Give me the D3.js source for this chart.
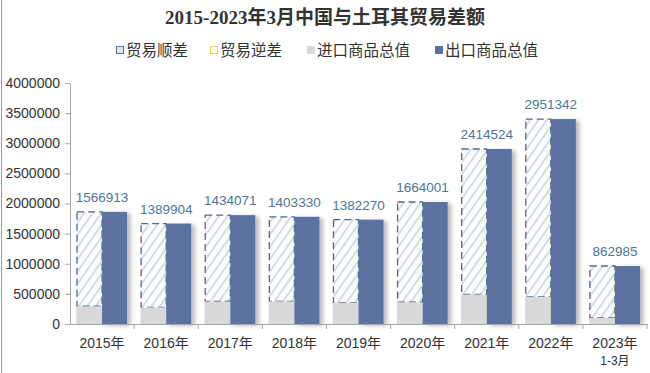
<!DOCTYPE html>
<html>
<head>
<meta charset="utf-8">
<script src="https://cdn.jsdelivr.net/npm/d3@7"></script>
<style>
  body { margin: 0; background: #fff; }
  svg { display: block; font-family: "Liberation Sans", "Noto Sans CJK SC", sans-serif; }
</style>
</head>
<body>
<div id="chart"></div>
<script>
// ---- data (万美元) ----
const years = ['2015年', '2016年', '2017年', '2018年', '2019年', '2020年', '2021年', '2022年', '2023年'];
const subLabels = ['', '', '', '', '', '', '', '', '1-3月'];
const importVals = [294600, 277000, 373200, 376000, 350000, 361000, 490000, 450000, 100000];
const exportVals = [1861513, 1666904, 1807271, 1779330, 1732270, 2025001, 2904524, 3401342, 962985];
const surplusVals = [1566913, 1389904, 1434071, 1403330, 1382270, 1664001, 2414524, 2951342, 862985];
const yTicks = [0, 500000, 1000000, 1500000, 2000000, 2500000, 3000000, 3500000, 4000000];
const legendItems = ['贸易顺差', '贸易逆差', '进口商品总值', '出口商品总值'];

const width = 650, height = 373;
const exportColor = '#5b73a1',
    importColor = '#d9d9d9',
    labelColor = '#4b7697',
    dashColor = '#4d6b88';

const svg = d3.select('#chart').append('svg')
    .attr('width', width)
    .attr('height', height);

const defs = svg.append('defs');
const hatch = defs.append('pattern')
    .attr('id', 'hatch')
    .attr('patternUnits', 'userSpaceOnUse')
    .attr('width', 7).attr('height', 7)
    .attr('patternTransform', 'rotate(35)');
hatch.append('rect').attr('width', 7).attr('height', 7).attr('fill', '#fbfcfd');
hatch.append('line')
    .attr('x1', 0).attr('y1', 0).attr('x2', 0).attr('y2', 7)
    .attr('stroke', '#cdd4dc').attr('stroke-width', 3.2);

const shadow = defs.append('filter').attr('id', 'shadow')
    .attr('x', '-20%').attr('y', '-5%').attr('width', '160%').attr('height', '115%');
shadow.append('feDropShadow')
    .attr('dx', 3.5).attr('dy', 1.5).attr('stdDeviation', 2)
    .attr('flood-color', '#000').attr('flood-opacity', 0.28);

// frame line on the left
svg.append('line')
    .attr('x1', 1.5).attr('x2', 1.5).attr('y1', 0).attr('y2', height)
    .attr('stroke', '#9a9a9a');

// title
svg.append('text')
    .attr('x', 325).attr('y', 24)
    .attr('text-anchor', 'middle')
    .style('font-family', '"Liberation Serif", "Noto Sans CJK SC", serif')
    .style('font-size', '19px')
    .style('font-weight', 'bold')
    .attr('fill', '#333')
    .text('2015-2023年3月中国与土耳其贸易差额');

// legend
const legendX = [116, 210, 307, 435];
const legend = svg.append('g').attr('class', 'legend');
legendItems.forEach((name, i) => {
    const g = legend.append('g').attr('transform', `translate(${legendX[i]},50)`);
    if (i === 0) {
        g.append('rect').attr('x', 0.5).attr('y', -3.5).attr('width', 7).attr('height', 7)
            .attr('fill', '#dfe7f0').attr('stroke', '#5a7896');
    } else if (i === 1) {
        g.append('rect').attr('x', 0.5).attr('y', -3.5).attr('width', 7).attr('height', 7)
            .attr('fill', '#fffbe6').attr('stroke', '#f2d24a');
    } else {
        g.append('rect').attr('x', 0).attr('y', -4).attr('width', 8).attr('height', 8)
            .attr('fill', i === 2 ? importColor : exportColor);
    }
    g.append('text')
        .attr('x', 10).attr('y', 6)
        .style('font-family', '"Noto Sans CJK SC", sans-serif')
        .style('font-size', '15.5px')
        .attr('fill', '#333')
        .text(name);
});

// scales
const x = d3.scaleBand().domain(years).range([70, 647]);
const sub = d3.scaleBand().domain(['imp', 'exp'])
    .range([7, x.bandwidth() - 7]);
const y = d3.scaleLinear().domain([0, 4000000]).range([324, 83]);

// axes
const yAxis = svg.append('g')
    .attr('transform', 'translate(70,0)')
    .call(d3.axisLeft(y).tickValues(yTicks).tickFormat(d3.format('d')).tickSize(5).tickSizeOuter(0));
yAxis.select('.domain').attr('stroke', '#a6a6a6');
yAxis.selectAll('.tick line').attr('stroke', '#a6a6a6');
yAxis.selectAll('.tick text')
    .attr('x', -10)
    .style('font-size', '14px')
    .style('font-family', '"Liberation Sans", sans-serif')
    .attr('fill', '#333');

const xAxis = svg.append('g')
    .attr('transform', 'translate(0,324)')
    .call(d3.axisBottom(x).tickSize(0).tickSizeOuter(0));
xAxis.select('.domain').attr('stroke', '#a6a6a6');
xAxis.selectAll('.tick text')
    .attr('dy', 0).attr('y', 24)
    .style('font-size', '14px')
    .style('font-family', '"Liberation Sans", "Noto Sans CJK SC", sans-serif')
    .attr('fill', '#333');
// boundary ticks between categories
xAxis.selectAll('.sep')
    .data(years)
    .enter().append('line')
    .attr('class', 'sep')
    .attr('x1', d => x(d) + x.bandwidth()).attr('x2', d => x(d) + x.bandwidth())
    .attr('y1', 0).attr('y2', 5)
    .attr('stroke', '#a6a6a6');
xAxis.selectAll('.sub')
    .data(years.filter((d, i) => subLabels[i]))
    .enter().append('text')
    .attr('class', 'sub')
    .attr('x', d => x(d) + x.bandwidth() / 2)
    .attr('y', 41)
    .attr('text-anchor', 'middle')
    .style('font-size', '12px')
    .style('font-family', '"Liberation Sans", "Noto Sans CJK SC", sans-serif')
    .attr('fill', '#333')
    .text(d => subLabels[years.indexOf(d)]);

// bars
const groups = svg.append('g').selectAll('g.group')
    .data(years)
    .enter().append('g')
    .attr('class', 'group')
    .attr('transform', d => `translate(${x(d)},0)`);

// trade surplus (hatched, stacked on imports)
groups.append('rect')
    .attr('x', sub('imp'))
    .attr('width', sub.bandwidth())
    .attr('y', (d, i) => y(importVals[i] + surplusVals[i]))
    .attr('height', (d, i) => y(importVals[i]) - y(importVals[i] + surplusVals[i]))
    .attr('fill', 'url(#hatch)')
    .attr('stroke', dashColor)
    .attr('stroke-width', 1.3)
    .attr('stroke-dasharray', '7,4');

// imports
groups.append('rect')
    .attr('x', sub('imp') - 0.7)
    .attr('width', sub.bandwidth() + 0.7)
    .attr('y', (d, i) => y(importVals[i]))
    .attr('height', (d, i) => y(0) - y(importVals[i]))
    .attr('fill', importColor);

// exports
groups.append('rect')
    .attr('x', sub('exp'))
    .attr('width', sub.bandwidth())
    .attr('y', (d, i) => y(exportVals[i]))
    .attr('height', (d, i) => y(0) - y(exportVals[i]))
    .attr('fill', exportColor)
    .attr('filter', 'url(#shadow)');

// surplus labels
groups.append('text')
    .attr('x', x.bandwidth() / 2)
    .attr('y', (d, i) => y(Math.max(exportVals[i], importVals[i] + surplusVals[i])) - 10)
    .attr('text-anchor', 'middle')
    .style('font-size', '13.5px')
    .style('font-family', '"Liberation Sans", sans-serif')
    .attr('fill', labelColor)
    .text((d, i) => surplusVals[i]);

// redraw x domain above bars
svg.append('line')
    .attr('x1', 70).attr('x2', 647).attr('y1', 324.5).attr('y2', 324.5)
    .attr('stroke', '#a6a6a6');
</script>
</body>
</html>
